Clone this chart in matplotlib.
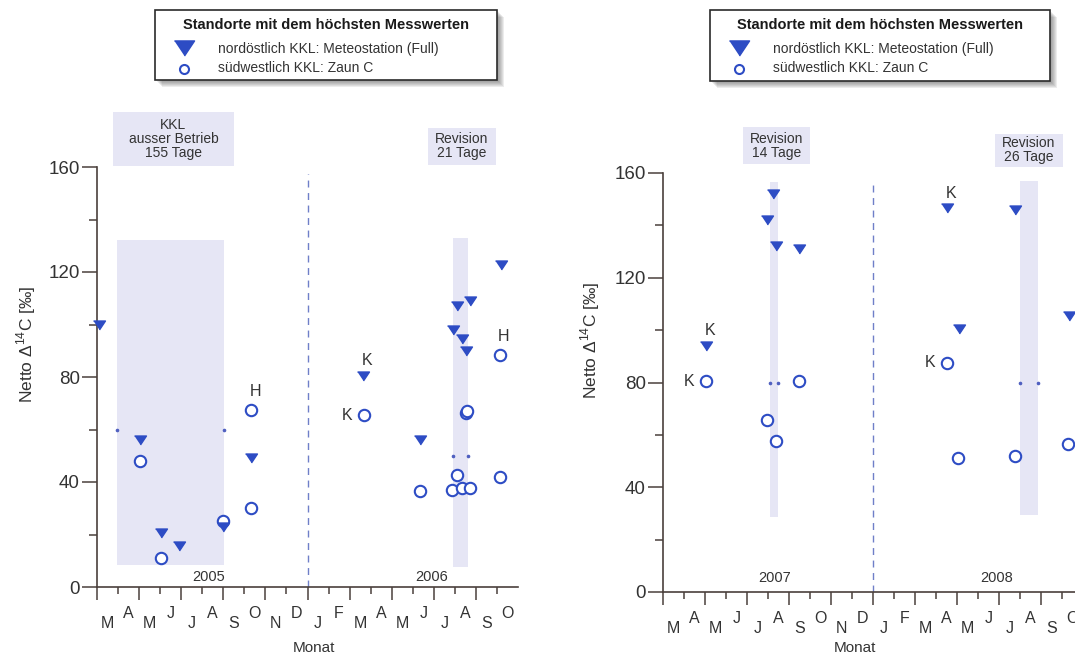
import numpy as np
import pandas as pd
import matplotlib
matplotlib.use('Agg')
import matplotlib.pyplot as plt
from matplotlib.patches import Rectangle
from matplotlib.lines import Line2D

plt.rcParams['font.family'] = ['Liberation Sans', 'DejaVu Sans']
plt.rcParams['mathtext.fontset'] = 'custom'
plt.rcParams['mathtext.rm'] = 'Liberation Sans'

# --- Messwerte Maerz 2005 - Oktober 2006 ---
met_a_dates = ['2005-03-04', '2005-05-02', '2005-06-02', '2005-06-28', '2005-08-31',
               '2005-10-11', '2006-03-21', '2006-06-12', '2006-07-29', '2006-08-04',
               '2006-08-11', '2006-08-18', '2006-08-23', '2006-10-07']
met_a_vals = [100, 56, 20.5, 15.5, 23, 49, 80.5, 56, 98, 107, 94.5, 90, 109, 122.5]
zaun_a_dates = ['2005-05-02', '2005-06-02', '2005-08-31', '2005-10-11', '2005-10-11',
                '2006-03-22', '2006-06-12', '2006-07-28', '2006-08-04', '2006-08-11',
                '2006-08-18', '2006-08-19', '2006-08-24', '2006-10-06', '2006-10-05']
zaun_a_vals = [48, 11, 25, 67.5, 30, 65.5, 36.6, 37, 42.7, 37.6, 66.2, 67, 37.6, 41.8, 88.4]

# --- Messwerte Maerz 2007 - Oktober 2008 ---
met_b_dates = ['2007-05-02', '2007-07-31', '2007-08-08', '2007-08-13', '2007-09-15',
               '2008-04-16', '2008-05-04', '2008-07-25', '2008-10-11']
met_b_vals = [94, 142, 152, 132, 131, 146.5, 100.5, 146, 105.5]
zaun_b_dates = ['2007-05-02', '2007-07-30', '2007-08-13', '2007-09-15',
                '2008-04-16', '2008-05-03', '2008-07-25', '2008-10-10']
zaun_b_vals = [80.5, 65.5, 57.5, 80.5, 87.5, 51, 52, 56.5]

# Stillstand / Revisionen: (von, bis, Text)
stops_a = [('2005-03-30', '2005-09-02', 'KKL\nausser Betrieb\n155 Tage'),
           ('2006-07-30', '2006-08-21', 'Revision\n21 Tage')]
stops_b = [('2007-08-04', '2007-08-16', 'Revision\n14 Tage'),
           ('2008-08-01', '2008-08-27', 'Revision\n26 Tage')]

# Kennzeichnung einzelner Punkte: (Reihe, Index, Text)
marks_a = [('zaun', 3, 'H'), ('met', 6, 'K'), ('zaun', 5, 'K'), ('zaun', 14, 'H')]
marks_b = [('met', 0, 'K'), ('zaun', 0, 'K'), ('met', 5, 'K'), ('zaun', 4, 'K')]

month_letters = ['J', 'F', 'M', 'A', 'M', 'J', 'J', 'A', 'S', 'O', 'N', 'D']

blue = '#2d4cc4'
band = '#e6e6f5'
dark = '#333333'
axcol = '#4a403c'

W, H = 1075, 655


def fx(x):
    return x / W


def fy(y):
    return 1 - y / H


def to_months(dates, year):
    d = pd.to_datetime(pd.Series(dates))
    return ((d.dt.year - year) * 12 + (d.dt.month - 3)
            + (d.dt.day - 1) / d.dt.days_in_month).to_numpy()


tri = [(-1, 0.75), (1, 0.75), (0, -0.75)]


def panel(ax, year, met_d, met_v, zaun_d, zaun_v, stops, marks, box_rows, year_y):
    ax.set_xlim(0, 20)
    ax.set_ylim(0, 160)
    for s in ['top', 'right']:
        ax.spines[s].set_visible(False)
    for s in ['left', 'bottom']:
        ax.spines[s].set_color(axcol)
        ax.spines[s].set_linewidth(1.2)
    ax.spines['bottom'].set_bounds(0, 20)
    ax.patch.set_alpha(0)

    ax.set_yticks([0, 40, 80, 120, 160])
    ax.set_yticks([20, 60, 100, 140], minor=True)
    ax.set_xticks(range(0, 20, 2))
    ax.set_xticks(range(1, 20, 2), minor=True)
    ax.set_xticklabels([])
    ax.tick_params(axis='y', which='major', length=10.8, width=1.1, color=axcol,
                   labelsize=13.5, labelcolor=dark, pad=1.5)
    ax.tick_params(axis='y', which='minor', length=5.8, width=1.1, color=axcol)
    ax.tick_params(axis='x', which='major', length=9.4, width=1.1, color=axcol)
    ax.tick_params(axis='x', which='minor', length=5, width=1.1, color=axcol)

    # Monatsbuchstaben, abwechselnd tief/hoch
    for i in range(20):
        ax.annotate(month_letters[(2 + i) % 12], xy=(i + 0.5, 0),
                    xycoords=ax.get_xaxis_transform(),
                    xytext=(0, -26 if i % 2 == 0 else -19), textcoords='offset points',
                    ha='center', va='center', fontsize=11.5, color=dark,
                    annotation_clip=False)

    # Jahreswechsel
    ax.axvline(10, ymin=0, ymax=157.5 / 160, color='#6f7fc8', lw=1,
               ls=(0, (5, 4)), zorder=1)
    ax.text(5.3, year_y, str(year), ha='center', va='center', fontsize=10.5, color=dark)
    ax.text(15.9, year_y, str(year + 1), ha='center', va='center', fontsize=10.5, color=dark)

    # Stillstaende / Revisionen
    for (d0, d1, label), (y0, y1, dot_y, bx0, bx1, by0, by1) in zip(stops, box_rows):
        x0, x1 = to_months([d0, d1], year)
        ax.add_patch(Rectangle((x0, y0), x1 - x0, y1 - y0, facecolor=band,
                               edgecolor='none', zorder=0))
        ax.plot([x0, x1], [dot_y, dot_y], ls='none', marker='o', ms=1.6,
                color='#5060c0', zorder=1)
        ax.add_patch(Rectangle((bx0, by0), bx1 - bx0, by1 - by0, facecolor=band,
                               edgecolor='none', clip_on=False, zorder=0))
        ax.text((bx0 + bx1) / 2, (by0 + by1) / 2, label, ha='center', va='center',
                fontsize=10, color=dark, linespacing=1.0, clip_on=False)

    xm = to_months(met_d, year)
    xz = to_months(zaun_d, year)
    ax.plot(xz, zaun_v, ls='none', marker='o', ms=8.2, mew=1.5, mec=blue, mfc='white',
            clip_on=False, zorder=3)
    ax.plot(xm, met_v, ls='none', marker=tri, ms=8.6, color=blue, clip_on=False, zorder=4)

    for series, idx, txt in marks:
        if series == 'met':
            xy, off = (xm[idx], met_v[idx]), (3, 11)
        else:
            xy = (xz[idx], zaun_v[idx])
            off = (3, 13) if txt == 'H' else (-12, 0)
        ax.annotate(txt, xy=xy, xytext=off, textcoords='offset points',
                    ha='center', va='center', fontsize=11.5, color=dark,
                    annotation_clip=False)


fig = plt.figure(figsize=(W / 100, H / 100), dpi=100)

ax1 = fig.add_axes([fx(97), fy(587), 421 / W, 420 / H])
panel(ax1, 2005, met_a_dates, met_a_vals, zaun_a_dates, zaun_a_vals, stops_a, marks_a,
      [(8.4, 132.2, 60, 0.76, 6.5, 160.2, 181), (7.7, 132.8, 50, 15.72, 18.95, 160.8, 175)],
      3.8)

ax2 = fig.add_axes([fx(663), fy(592), 420 / W, 419 / H])
panel(ax2, 2007, met_b_dates, met_b_vals, zaun_b_dates, zaun_b_vals, stops_b, marks_b,
      [(28.7, 156.6, 80, 3.8, 7.0, 163.4, 177.6), (29.4, 157, 80, 15.8, 19.03, 162.3, 175)],
      5.2)

ylab = 'Netto $\\Delta^{14}$C [‰]'
fig.text(fx(26), fy(344), ylab, rotation=90, ha='center', va='center', fontsize=12.5, color=dark)
fig.text(fx(590), fy(340), ylab, rotation=90, ha='center', va='center', fontsize=12.5, color=dark)
fig.text(fx(314), fy(648), 'Monat', ha='center', va='center', fontsize=11, color=dark)
fig.text(fx(855), fy(648), 'Monat', ha='center', va='center', fontsize=11, color=dark)


# Legendenkaesten mit weichem Schatten
def key_box(x0, x1, y0, y1):
    for k in range(6):
        o = 2 + k
        fig.add_artist(Rectangle((fx(x0 + o), fy(y1 + o)), (x1 - x0) / W, (y1 - y0) / H,
                                 transform=fig.transFigure, facecolor='#555555',
                                 edgecolor='none', alpha=0.11, zorder=5))
    fig.add_artist(Rectangle((fx(x0), fy(y1)), (x1 - x0) / W, (y1 - y0) / H,
                             transform=fig.transFigure, facecolor='white',
                             edgecolor='#2a2a2a', lw=1.2, zorder=6))
    fig.text(fx((x0 + x1) / 2), fy(y0 + 15), 'Standorte mit dem höchsten Messwerten',
             ha='center', va='center', fontsize=10.5, fontweight='bold', color='#1a1a1a',
             zorder=7)
    mx = x0 + 29
    fig.add_artist(Line2D([fx(mx)], [fy(y0 + 38)], transform=fig.transFigure, marker=tri,
                          ms=14.5, color=blue, ls='none', zorder=7))
    fig.add_artist(Line2D([fx(mx)], [fy(y0 + 58.5)], transform=fig.transFigure, marker='o',
                          ms=6.5, mew=1.5, mec=blue, mfc='white', ls='none', zorder=7))
    fig.text(fx(x0 + 63), fy(y0 + 39), 'nordöstlich KKL: Meteostation (Full)',
             ha='left', va='center', fontsize=10, color=dark, zorder=7)
    fig.text(fx(x0 + 63), fy(y0 + 58.5), 'südwestlich KKL: Zaun C',
             ha='left', va='center', fontsize=10, color=dark, zorder=7)


key_box(155, 497, 10, 80)
key_box(710, 1050, 10, 81)

fig.savefig('out.png', dpi=100)
